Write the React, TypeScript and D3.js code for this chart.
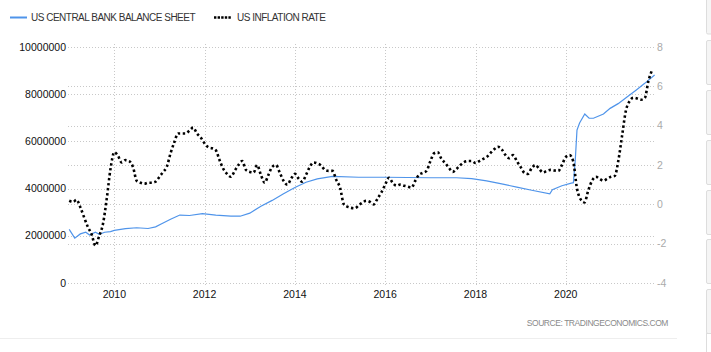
import React, { useRef, useEffect } from "react";
import * as d3 from "d3";

// US central bank balance sheet (USD million)
const balanceDates = [
  "2009-01-01", "2009-02-15", "2009-04-01", "2009-05-15", "2009-06-15", "2009-08-01",
  "2009-09-01", "2009-10-15", "2009-12-01", "2010-01-01", "2010-04-01", "2010-07-01",
  "2010-10-01", "2010-12-01", "2011-01-15", "2011-04-01", "2011-06-15", "2011-09-01",
  "2011-12-15", "2012-04-01", "2012-08-01", "2012-10-15", "2013-01-01", "2013-04-01",
  "2013-07-01", "2013-10-01", "2014-01-01", "2014-04-01", "2014-07-01", "2014-11-01",
  "2015-06-01", "2016-01-01", "2016-07-01", "2017-01-01", "2017-08-01", "2017-12-01",
  "2018-04-01", "2018-08-01", "2018-12-01", "2019-04-01", "2019-08-25", "2019-09-15",
  "2019-12-01", "2020-02-15", "2020-03-03", "2020-03-18", "2020-04-01", "2020-04-22",
  "2020-06-03", "2020-07-08", "2020-08-12", "2020-11-01", "2020-12-25", "2021-02-28",
  "2021-05-08", "2021-07-25", "2021-10-01", "2021-12-20",
];
const balanceValues = [
  2270000, 1900000, 2080000, 2150000, 2030000, 2150000,
  2060000, 2150000, 2180000, 2230000, 2300000, 2340000,
  2310000, 2380000, 2500000, 2700000, 2880000, 2860000,
  2940000, 2880000, 2830000, 2830000, 2960000, 3250000,
  3500000, 3780000, 4050000, 4270000, 4410000, 4520000,
  4480000, 4480000, 4470000, 4460000, 4460000, 4420000,
  4330000, 4200000, 4060000, 3930000, 3780000, 3950000,
  4120000, 4230000, 4250000, 5200000, 6480000, 6780000,
  7160000, 6980000, 6980000, 7160000, 7400000, 7600000,
  7870000, 8180000, 8460000, 8810000,
];

// US inflation rate (%), monthly from 2009-01
const inflationStart = "2009-01-01";
const inflationValues = [
  0.18, 0.12, 0.23, -0.15, -0.65, -1.15, -1.52, -2.1, -1.6, -1.0, 0.3, 1.8,
  2.65, 2.45, 2.13, 2.25, 2.2, 1.9, 1.2, 1.1, 1.05, 1.1, 1.1, 1.15,
  1.4, 1.65, 1.9, 2.6, 3.15, 3.6, 3.6, 3.6, 3.75, 3.9, 3.6, 3.4,
  3.1, 2.9, 2.85, 2.75, 2.25, 1.8, 1.55, 1.4, 1.7, 2.0, 2.2, 1.75,
  1.65, 1.62, 2.0, 1.5, 1.1, 1.5, 1.9, 2.0, 1.6, 1.2, 1.0, 1.3,
  1.55, 1.3, 1.15, 1.5, 1.9, 2.13, 2.08, 1.98, 1.75, 1.7, 1.7, 1.25,
  0.85, 0.0, -0.12, -0.18, -0.2, -0.05, 0.08, 0.18, 0.12, 0.0, 0.3, 0.6,
  1.0, 1.35, 1.1, 0.95, 1.0, 0.95, 0.9, 0.85, 1.2, 1.5, 1.6, 1.7,
  2.2, 2.6, 2.65, 2.3, 2.1, 1.85, 1.65, 1.8, 2.0, 2.15, 2.2, 2.2,
  2.1, 2.2, 2.3, 2.4, 2.6, 2.8, 2.93, 2.8, 2.5, 2.35, 2.5, 2.2,
  1.9, 1.6, 1.55, 1.85, 2.0, 1.8, 1.62, 1.7, 1.75, 1.72, 1.7, 2.0,
  2.4, 2.5, 2.2, 0.8, 0.25, 0.1, 0.7, 1.2, 1.4, 1.3, 1.2, 1.3,
  1.4, 1.45, 2.2, 3.5, 4.75, 5.25, 5.42, 5.38, 5.32, 5.4, 6.3, 6.85,
];

const leftTicks = [0, 2000000, 4000000, 6000000, 8000000, 10000000];
const rightTicks = [-4, -2, 0, 2, 4, 6, 8];
const yearTicks = [2010, 2012, 2014, 2016, 2018, 2020];

const legendItems = ["US CENTRAL BANK BALANCE SHEET", "US INFLATION RATE"];
const sourceText = "SOURCE:  TRADINGECONOMICS.COM";

// side panel boxes on the right edge of the page
const panelTops = [40, 90, 140, 190, 239, 289];

export default function App() {
  const ref = useRef(null);

  useEffect(() => {
    const el = ref.current;
    if (!el) return;
    const svg = d3.select(el);
    svg.selectAll("*").remove();

    const width = 711;
    const height = 352;
    const left = 68;
    const right = 655;
    const top = 47;
    const bottom = 283;
    const font = "'Liberation Sans', Arial, sans-serif";

    svg.append("rect").attr("width", width).attr("height", height).attr("fill", "#fff");

    const parse = d3.timeParse("%Y-%m-%d");
    const x = d3
      .scaleTime()
      .domain([parse("2009-01-01"), parse("2022-01-01")])
      .range([69.2, 656.1]);
    const yL = d3.scaleLinear().domain([0, 10000000]).range([bottom, top]);
    const yR = d3.scaleLinear().domain([-4, 8]).range([bottom, top]);

    // gridlines
    const grid = svg.append("g").attr("stroke", "#c8c8c8").attr("stroke-dasharray", "1,2");
    leftTicks.forEach((t) => {
      grid.append("line").attr("x1", left).attr("x2", right)
        .attr("y1", Math.round(yL(t)) + 0.5).attr("y2", Math.round(yL(t)) + 0.5);
    });
    rightTicks.forEach((t) => {
      grid.append("line").attr("x1", left).attr("x2", right)
        .attr("y1", Math.round(yR(t)) + 0.5).attr("y2", Math.round(yR(t)) + 0.5);
    });
    yearTicks.forEach((yr) => {
      const xx = Math.round(x(new Date(yr, 0, 1))) + 0.5;
      grid.append("line").attr("x1", xx).attr("x2", xx).attr("y1", top - 3).attr("y2", bottom + 4);
    });

    // left axis labels
    svg.append("g").selectAll("text").data(leftTicks).enter().append("text")
      .attr("x", 66).attr("y", (d) => yL(d))
      .attr("dy", "0.35em").attr("text-anchor", "end")
      .attr("font-family", font).attr("font-size", 10.5).attr("fill", "#111")
      .text((d) => String(d));

    // right axis labels
    svg.append("g").selectAll("text").data(rightTicks).enter().append("text")
      .attr("x", 657).attr("y", (d) => yR(d))
      .attr("dy", "0.35em")
      .attr("font-family", font).attr("font-size", 10.5).attr("fill", "#aaa")
      .text((d) => String(d));

    // year labels
    svg.append("g").selectAll("text").data(yearTicks).enter().append("text")
      .attr("x", (d) => x(new Date(d, 0, 1))).attr("y", 298)
      .attr("text-anchor", "middle")
      .attr("font-family", font).attr("font-size", 10.5).attr("fill", "#111")
      .text((d) => String(d));

    // balance sheet line
    const balance = balanceDates.map((d, i) => ({ date: parse(d), value: balanceValues[i] }));
    svg.append("path").datum(balance)
      .attr("fill", "none").attr("stroke", "#4f94ea").attr("stroke-width", 1.2)
      .attr("d", d3.line().x((d) => x(d.date)).y((d) => yL(d.value)));

    // inflation line
    const start = parse(inflationStart);
    const inflation = inflationValues.map((v, i) => ({ date: d3.timeMonth.offset(start, i), value: v }));
    svg.append("path").datum(inflation)
      .attr("fill", "none").attr("stroke", "#000").attr("stroke-width", 2.6)
      .attr("stroke-dasharray", "2.4,2.6")
      .attr("d", d3.line().curve(d3.curveMonotoneX).x((d) => x(d.date)).y((d) => yR(d.value)));

    // legend
    const lg = svg.append("g");
    lg.append("line").attr("x1", 10).attr("x2", 27).attr("y1", 17.5).attr("y2", 17.5)
      .attr("stroke", "#4f94ea").attr("stroke-width", 2);
    lg.append("text").attr("x", 31).attr("y", 21)
      .attr("font-family", font).attr("font-size", 10).attr("letter-spacing", -0.5).attr("fill", "#333")
      .text(legendItems[0]);
    lg.append("line").attr("x1", 214).attr("x2", 232).attr("y1", 17.5).attr("y2", 17.5)
      .attr("stroke", "#000").attr("stroke-width", 2.6).attr("stroke-dasharray", "2.4,1.2");
    lg.append("text").attr("x", 237).attr("y", 21)
      .attr("font-family", font).attr("font-size", 10).attr("letter-spacing", -0.5).attr("fill", "#333")
      .text(legendItems[1]);

    // source
    svg.append("text").attr("x", 668).attr("y", 326).attr("text-anchor", "end")
      .attr("font-family", font).attr("font-size", 8.5).attr("letter-spacing", -0.45).attr("fill", "#8a8a8a")
      .text(sourceText);

    // bottom separator
    svg.append("line").attr("x1", 0).attr("x2", 677).attr("y1", 338.5).attr("y2", 338.5)
      .attr("stroke", "#eee");

    // right side panels
    const pg = svg.append("g").attr("fill", "#f5f5f5").attr("stroke", "#ddd");
    pg.append("rect").attr("x", 706.5).attr("y", -5).attr("width", 10).attr("height", 39).attr("rx", 1.5);
    panelTops.forEach((t) => {
      pg.append("rect").attr("x", 706.5).attr("y", t + 0.5).attr("width", 10).attr("height", 44).attr("rx", 1.5);
    });
    pg.append("rect").attr("x", 706.5).attr("y", 333.5).attr("width", 10).attr("height", 30).attr("fill", "#fff");

    return () => {
      svg.selectAll("*").remove();
    };
  }, []);

  return (
    <svg
      ref={ref}
      width={711}
      height={352}
      style={{ position: "absolute", left: 0, top: 0, display: "block" }}
    />
  );
}
